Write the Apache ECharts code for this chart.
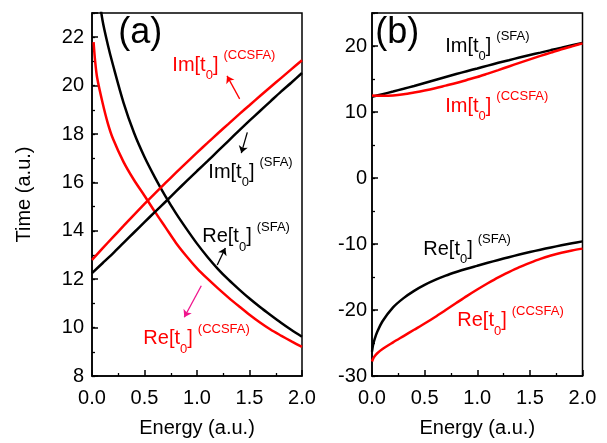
<!DOCTYPE html>
<html><head><meta charset="utf-8">
<script src="https://cdn.jsdelivr.net/npm/echarts@6/dist/echarts.min.js"></script>
<style>html,body{margin:0;padding:0;background:#fff}#c{width:607px;height:443px}</style>
</head><body><div id="c"></div>
<script>
// ---------- Panel (a) ----------
const energyReA = [0.015,0.03,0.05,0.1,0.15,0.2,0.3,0.4,0.5,0.6,0.7,0.8,0.9,1.0,1.1,1.2,1.3,1.4,1.5,1.6,1.7,1.8,1.9,2.0];
const reSfaA   = [25.6,25.0,24.2,22.7,21.7,20.85,19.3,18.05,17.05,16.2,15.42,14.72,14.08,13.47,12.92,12.42,11.98,11.58,11.2,10.85,10.52,10.2,9.9,9.62];
const reCcsfaA = [21.8,21.0,20.3,19.3,18.45,17.8,16.85,16.1,15.45,14.78,14.14,13.5,12.95,12.45,12.02,11.62,11.24,10.88,10.53,10.21,9.92,9.67,9.43,9.2];
const energyIm = [0,0.1,0.2,0.3,0.4,0.5,0.6,0.7,0.8,0.9,1.0,1.1,1.2,1.3,1.4,1.5,1.6,1.7,1.8,1.9,2.0];
const imCcsfaA = [12.8,13.27,13.74,14.2,14.66,15.11,15.55,15.98,16.4,16.82,17.23,17.63,18.03,18.42,18.81,19.19,19.57,19.94,20.31,20.68,21.05];
const imSfaA   = [12.25,12.66,13.07,13.5,13.93,14.36,14.78,15.2,15.63,16.05,16.47,16.88,17.3,17.72,18.14,18.55,18.95,19.35,19.75,20.13,20.52];
// ---------- Panel (b) ----------
const energyReB = [0,0.01,0.025,0.05,0.1,0.2,0.3,0.4,0.5,0.6,0.7,0.8,0.9,1.0,1.1,1.2,1.3,1.4,1.5,1.6,1.7,1.8,1.9,2.0];
const reSfaB   = [-26.3,-25.3,-24.4,-23.3,-21.7,-19.6,-18.2,-17.1,-16.2,-15.45,-14.8,-14.25,-13.75,-13.3,-12.85,-12.42,-12.0,-11.6,-11.22,-10.86,-10.52,-10.2,-9.9,-9.6];
const reCcsfaB = [-27.8,-27.4,-27.0,-26.55,-25.9,-24.9,-23.95,-23.0,-22.05,-21.05,-20.0,-18.95,-17.9,-16.9,-15.95,-15.05,-14.25,-13.5,-12.85,-12.25,-11.75,-11.32,-10.98,-10.7];
const imSfaB   = [12.3,12.7,13.1,13.52,13.95,14.4,14.85,15.3,15.75,16.18,16.6,17.03,17.45,17.85,18.25,18.63,19.0,19.38,19.74,20.1,20.45];
const imCcsfaB = [12.5,12.45,12.5,12.68,12.95,13.25,13.6,14.0,14.4,14.85,15.3,15.82,16.35,16.9,17.45,17.98,18.5,19.0,19.5,19.95,20.4];
// ---------- Axis settings ----------
const xTicks = {min:0, max:2, interval:0.5};
const yRangeA = {min:8, max:23, major:2, minor:1};
const yRangeB = {min:-30, max:25, major:10, minor:5};
// ---------- Annotations (data coordinates) ----------
// [grid, E, V, colour, main, sub, close, sup]
const labels = [
  [0, 0.765, 20.57, '#ff0000', 'Im[t', '0', ']', '(CCSFA)'],
  [0, 1.108, 16.15, '#000000', 'Im[t', '0', ']', '(SFA)'],
  [0, 1.05, 13.49, '#000000', 'Re[t', '0', ']', '(SFA)'],
  [0, 0.489, 9.28, '#ff0000', 'Re[t', '0', ']', '(CCSFA)'],
  [1, 0.696, 18.96, '#000000', 'Im[t', '0', ']', '(SFA)'],
  [1, 0.696, 9.96, '#ff0000', 'Im[t', '0', ']', '(CCSFA)'],
  [1, 0.487, -11.79, '#000000', 'Re[t', '0', ']', '(SFA)'],
  [1, 0.81, -22.6, '#ff0000', 'Re[t', '0', ']', '(CCSFA)']
];
const panelTags = [[0, 0.25, 21.71, '(a)'], [1, 0.031, 20.3, '(b)']];
// arrows: [from E, from V, to E, to V]
const arrowImCcsfaA = [1.406, 19.45, 1.286, 20.40];
const arrowImSfaA   = [1.479, 18.07, 1.422, 17.21];
const arrowReSfaA   = [1.193, 12.59, 1.27, 13.29];
const arrowReCcsfaA = [1.041, 11.73, 0.879, 10.43];

const FONT = '"Liberation Sans", Arial, Helvetica, sans-serif';
const zip = (xs, ys) => xs.map((x, i) => [x, ys[i]]);
const chart = echarts.init(document.getElementById('c'), null, {renderer:'canvas'});

function xAxisFor(g) {
  return {
    gridIndex:g, type:'value', min:xTicks.min, max:xTicks.max, interval:xTicks.interval,
    axisLine:{show:true, onZero:false, lineStyle:{color:'#000', width:1.5}},
    axisTick:{show:true, inside:true, length:6, lineStyle:{color:'#000', width:1.5}},
    minorTick:{show:true, splitNumber:2, length:3, lineStyle:{color:'#000', width:1.3}},
    splitLine:{show:false},
    axisLabel:{color:'#000', fontSize:20, fontFamily:FONT, margin:12, formatter:v => v.toFixed(1)},
    name:'Energy (a.u.)', nameLocation:'middle', nameGap:42,
    nameTextStyle:{color:'#000', fontSize:20, fontFamily:FONT}
  };
}
function yAxesFor(g, r, margin, withName) {
  return [{
    gridIndex:g, type:'value', position:'left', min:r.min, max:r.max, interval:r.minor,
    axisLine:{show:true, onZero:false, lineStyle:{color:'#000', width:1.5}},
    axisTick:{show:true, inside:true, length:3, lineStyle:{color:'#000', width:1.3}},
    splitLine:{show:false},
    axisLabel:{color:'#000', fontSize:20, fontFamily:FONT, margin:margin,
      formatter:v => (Math.abs(v % r.major) < 1e-9 && v < r.max) ? String(v) : ''},
    name: withName ? 'Time (a.u.)' : '', nameLocation:'middle', nameGap:58,
    nameTextStyle:{color:'#000', fontSize:20, fontFamily:FONT}
  }, {
    gridIndex:g, type:'value', position:'left', min:r.min, max:r.max, interval:r.major,
    axisLine:{show:false}, axisLabel:{show:false}, splitLine:{show:false},
    axisTick:{show:true, inside:true, length:6, lineStyle:{color:'#000', width:1.5}}
  }];
}
function arrowML(a, color) {
  return {
    silent:true, symbol:['none','arrow'], symbolSize:7, animation:false,
    label:{show:false}, emphasis:{disabled:true},
    lineStyle:{color:color, width:1.3, type:'solid'},
    data:[[{coord:[a[0], a[1]]}, {coord:[a[2], a[3]]}]]
  };
}
function lineSeries(g, xs, ys, color, ml) {
  const s = {
    type:'line', xAxisIndex:g, yAxisIndex:g*2, data:zip(xs, ys),
    showSymbol:false, symbol:'none', smooth:0.3, clip:true, animation:false,
    lineStyle:{color:color, width:2.5}, emphasis:{disabled:true}, z:3
  };
  if (ml) s.markLine = ml;
  return s;
}

chart.setOption({
  backgroundColor:'#fff',
  animation:false,
  grid:[
    {left:92, top:13, width:210, height:366.5, show:true, borderColor:'#000', borderWidth:1.5, backgroundColor:'transparent'},
    {left:372, top:13, width:210.5, height:366.5, show:true, borderColor:'#000', borderWidth:1.5, backgroundColor:'transparent'}
  ],
  xAxis:[xAxisFor(0), xAxisFor(1)],
  yAxis:[...yAxesFor(0, yRangeA, 8, true), ...yAxesFor(1, yRangeB, 5, false)],
  series:[
    lineSeries(0, energyReA, reSfaA, '#000000', arrowML(arrowReSfaA, '#000')),
    lineSeries(0, energyReA, reCcsfaA, '#ff0000', arrowML(arrowReCcsfaA, '#f0148c')),
    lineSeries(0, energyIm, imSfaA, '#000000', arrowML(arrowImSfaA, '#000')),
    lineSeries(0, energyIm, imCcsfaA, '#ff0000', arrowML(arrowImCcsfaA, '#ff0000')),
    lineSeries(1, energyReB, reSfaB, '#000000'),
    lineSeries(1, energyReB, reCcsfaB, '#ff0000'),
    lineSeries(1, energyIm, imSfaB, '#000000'),
    lineSeries(1, energyIm, imCcsfaB, '#ff0000')
  ]
});

// ---------- text annotations ----------
const ctx = document.createElement('canvas').getContext('2d');
const tw = (t, s) => { ctx.font = s + 'px ' + FONT; return ctx.measureText(t).width; };
const txt = (t, s, x, base, color) => ({
  type:'text', x:x, y:base - 0.31*s, silent:true, z:100,
  style:{text:t, fontSize:s, fontFamily:FONT, fill:color, align:'left', verticalAlign:'middle'}
});
const els = [];
labels.forEach(([g, e, v, color, main, sub, close, sup]) => {
  const [x, y] = chart.convertToPixel({gridIndex:g}, [e, v]);
  let cx = x;
  els.push(txt(main, 20, cx, y, color)); cx += tw(main, 20);
  els.push(txt(sub, 13, cx, y + 8, color)); cx += tw(sub, 13);
  els.push(txt(close, 20, cx, y, color)); cx += tw(close, 20) + 5;
  els.push(txt(sup, 13, cx, y - 12, color));
});
panelTags.forEach(([g, e, v, t]) => {
  const [x, y] = chart.convertToPixel({gridIndex:g}, [e, v]);
  els.push(txt(t, 36, x, y, '#000'));
});
chart.setOption({graphic:{elements:els}});
</script>
</body></html>
